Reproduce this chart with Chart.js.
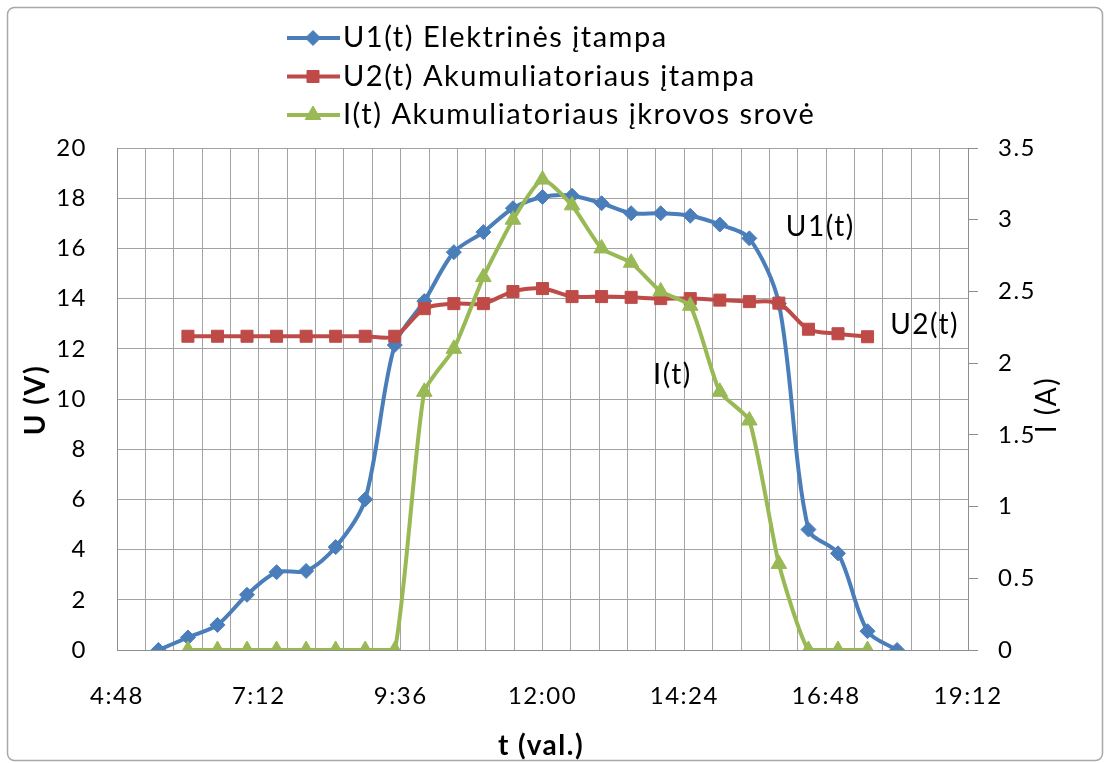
<!DOCTYPE html>
<html><head><meta charset="utf-8">
<script src="https://cdn.jsdelivr.net/npm/chart.js@4.4.0/dist/chart.umd.min.js"></script>
<style>html,body{margin:0;padding:0;background:#fff;}canvas{display:block;}</style>
</head><body>
<canvas id="c" width="1108" height="763"></canvas>
<script>
// ---- data ----
const timesU1 = ['5:30','6:00','6:30','7:00','7:30','8:00','8:30','9:00','9:30','10:00','10:30','11:00','11:30','12:00','12:30','13:00','13:30','14:00','14:30','15:00','15:30','16:00','16:30','17:00','17:30','18:00'];
const u1Values = [0, 0.5, 1.0, 2.2, 3.1, 3.15, 4.1, 6.0, 12.15, 13.9, 15.85, 16.65, 17.6, 18.05, 18.1, 17.8, 17.4, 17.4, 17.3, 16.95, 16.4, 13.8, 4.8, 3.85, 0.75, 0];
const timesU2 = ['6:00','6:30','7:00','7:30','8:00','8:30','9:00','9:30','10:00','10:30','11:00','11:30','12:00','12:30','13:00','13:30','14:00','14:30','15:00','15:30','16:00','16:30','17:00','17:30'];
const u2Values = [12.5, 12.5, 12.5, 12.5, 12.5, 12.5, 12.5, 12.5, 13.6, 13.8, 13.8, 14.28, 14.4, 14.08, 14.08, 14.05, 14.0, 14.0, 13.94, 13.88, 13.82, 12.78, 12.6, 12.48];
const timesI = ['6:00','6:30','7:00','7:30','8:00','8:30','9:00','9:30','10:00','10:30','11:00','11:30','12:00','12:30','13:00','13:30','14:00','14:30','15:00','15:30','16:00','16:30','17:00','17:30'];
const iValues = [0, 0, 0, 0, 0, 0, 0, 0, 1.8, 2.1, 2.6, 3.0, 3.28, 3.1, 2.8, 2.7, 2.5, 2.4, 1.8, 1.6, 0.6, 0, 0, 0];
const seriesNames = ['U1(t) Elektrinės įtampa', 'U2(t) Akumuliatoriaus įtampa', 'I(t) Akumuliatoriaus įkrovos srovė'];
const xTickLabels = ['4:48','7:12','9:36','12:00','14:24','16:48','19:12'];
const axisTitles = { left: 'U (V)', right: 'I (A)', bottom: 't (val.)' };
const annotationTexts = ['U1(t)', 'U2(t)', 'I(t)'];
const annotationTimes = ['16:42', '18:28', '14:12'];
const annotationValues = [16.85, 12.95, 10.95];

// ---- helpers ----
const toMin = s => { const [h, m] = s.split(':').map(Number); return h * 60 + m; };
const xTickMinutes = xTickLabels.map(toMin);
const xMin = xTickMinutes[0], xMax = xTickMinutes[xTickMinutes.length - 1];
const colors = ['#4A7EBB', '#BE4B48', '#98B954'];
const styles = [{ ps: 'rectRot', r: 7.5, t: 0.3 }, { ps: 'rect', r: 8.5, t: 0.3 }, { ps: 'triangle', r: 9, t: 0.18 }];
const gridColor = '#a3a3a3';
const FONT = 'Lato, "Open Sans", sans-serif';

function mk(times, vals) { return times.map((t, i) => ({ x: toMin(t), y: vals[i] })); }
function ds(i, data, axis, order) {
  return {
    label: seriesNames[i], data, yAxisID: axis, order,
    borderColor: colors[i], backgroundColor: colors[i], borderWidth: 4,
    pointStyle: styles[i].ps, pointRadius: styles[i].r, pointBorderWidth: 1,
    pointBackgroundColor: colors[i], pointBorderColor: colors[i],
    tension: styles[i].t, fill: false
  };
}

const spacing = {
  id: 'spacing',
  beforeUpdate(c) { c.ctx.letterSpacing = '1.5px'; },
  beforeDraw(c) {
    const ctx = c.ctx;
    ctx.letterSpacing = '1.5px';
    ctx.save(); ctx.fillStyle = '#fff'; ctx.fillRect(0, 0, c.width, c.height); ctx.restore();
  }
};

const decor = {
  id: 'decor',
  afterDraw(c) {
    const ctx = c.ctx, xs = c.scales.x, ys = c.scales.y;
    ctx.save();
    ctx.letterSpacing = '1.5px';
    // outer border
    ctx.strokeStyle = '#a8a8a8'; ctx.lineWidth = 1.5;
    ctx.beginPath(); ctx.roundRect(7.5, 7.5, 1095, 753, 7); ctx.stroke();
    ctx.fillStyle = '#000'; ctx.textAlign = 'center'; ctx.textBaseline = 'middle';
    // axis titles
    ctx.font = 'bold 28px ' + FONT;
    ctx.save(); ctx.translate(36, 400); ctx.rotate(-Math.PI / 2); ctx.fillText(axisTitles.left, 0, 0); ctx.restore();
    ctx.font = '28px ' + FONT;
    ctx.save(); ctx.translate(1047, 405); ctx.rotate(-Math.PI / 2); ctx.fillText(axisTitles.right, 0, 0); ctx.restore();
    ctx.font = 'bold 28px ' + FONT;
    ctx.fillText(axisTitles.bottom, 541, 746);
    // in-plot labels
    ctx.font = '28px ' + FONT;
    annotationTexts.forEach((t, i) => {
      ctx.fillText(t, xs.getPixelForValue(toMin(annotationTimes[i])), ys.getPixelForValue(annotationValues[i]));
    });
    // legend
    ctx.textAlign = 'left';
    ctx.font = '29px ' + FONT;
    seriesNames.forEach((name, i) => {
      const y = 38 + i * 38.5;
      ctx.strokeStyle = colors[i]; ctx.fillStyle = colors[i]; ctx.lineWidth = 4;
      ctx.beginPath(); ctx.moveTo(287, y); ctx.lineTo(340, y); ctx.stroke();
      ctx.lineWidth = 1;
      Chart.helpers.drawPoint(ctx, { pointStyle: styles[i].ps, radius: styles[i].r, rotation: 0, borderWidth: 1 }, 313, y);
      ctx.fillStyle = '#000';
      ctx.fillText(name, 343, y);
    });
    ctx.restore();
  }
};

new Chart(document.getElementById('c'), {
  type: 'line',
  data: {
    datasets: [
      ds(0, mk(timesU1, u1Values), 'y', 2),
      ds(1, mk(timesU2, u2Values), 'y', 1),
      ds(2, mk(timesI, iValues), 'y1', 0)
    ]
  },
  options: {
    responsive: false, animation: false, devicePixelRatio: 1,
    layout: { padding: { top: 148, left: 0, right: 0, bottom: 0 } },
    plugins: { legend: { display: false }, tooltip: { enabled: false } },
    scales: {
      x: {
        type: 'linear', min: xMin, max: xMax,
        afterFit(s) { s.height = 113; },
        afterBuildTicks(s) {
          const n = 30, t = [];
          for (let k = 0; k <= n; k++) t.push({ value: xMin + (xMax - xMin) * k / n });
          s.ticks = t;
        },
        ticks: {
          autoSkip: false, maxRotation: 0, padding: 32, color: '#000',
          font: { family: FONT, size: 24 },
          callback: v => { const i = xTickMinutes.findIndex(m => Math.abs(m - v) < 0.01); return i >= 0 ? xTickLabels[i] : ''; }
        },
        grid: { color: gridColor, lineWidth: 1, drawTicks: false },
        border: { color: '#8e8e8e', width: 1 }
      },
      y: {
        position: 'left', min: 0, max: 20,
        afterFit(s) { s.width = 117; },
        ticks: { stepSize: 2, padding: 30, color: '#000', font: { family: FONT, size: 24 }, callback: v => String(v) },
        grid: { color: gridColor, lineWidth: 1, drawTicks: false },
        border: { color: '#8e8e8e', width: 1 }
      },
      y1: {
        position: 'right', min: 0, max: 3.5,
        afterFit(s) { s.width = 140; },
        ticks: { stepSize: 0.5, padding: 20, color: '#000', font: { family: FONT, size: 24 }, callback: v => String(v) },
        grid: { drawOnChartArea: false, color: '#8e8e8e', tickLength: 10, lineWidth: 1 },
        border: { color: '#8e8e8e', width: 1 }
      }
    }
  },
  plugins: [spacing, decor]
});
</script>
</body></html>
